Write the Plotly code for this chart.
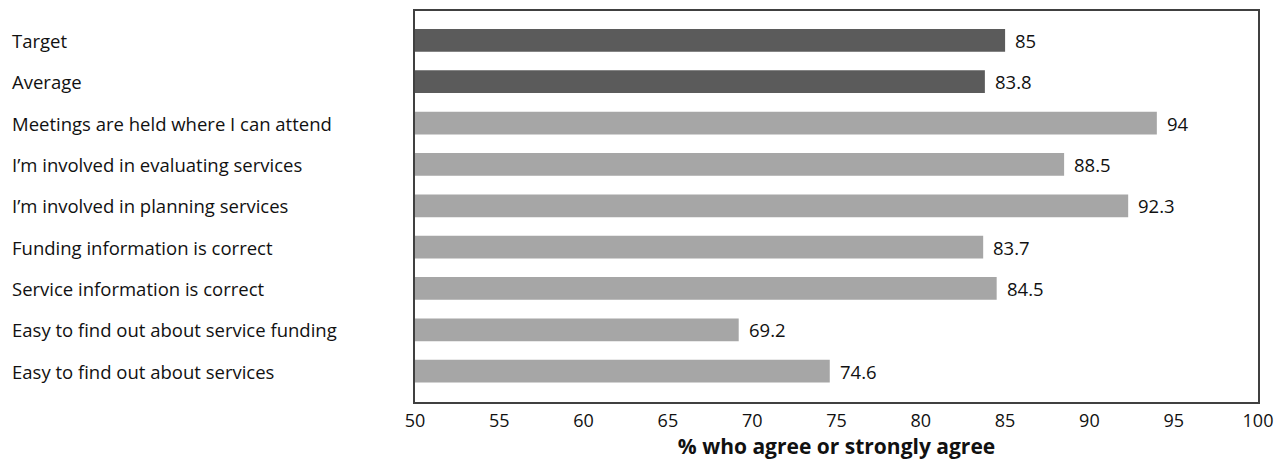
import plotly.graph_objects as go

# Survey items, listed top to bottom
categories = [
    "Target",
    "Average",
    "Meetings are held where I can attend",
    "I\u2019m involved in evaluating services",
    "I\u2019m involved in planning services",
    "Funding information is correct",
    "Service information is correct",
    "Easy to find out about service funding",
    "Easy to find out about services",
]
values = [85, 83.8, 94, 88.5, 92.3, 83.7, 84.5, 69.2, 74.6]
benchmark_rows = ["Target", "Average"]

x_title = "% who agree or strongly agree"
x_ticks = [50, 55, 60, 65, 70, 75, 80, 85, 90, 95, 100]

DARK = "#5b5b5b"
LIGHT = "#a6a6a6"
FONT = "Open Sans"
TEXT = "#111111"

PLOT_LEFT = 415
PLOT_W = 1282 - 415 - 24

colors = [DARK if c in benchmark_rows else LIGHT for c in categories]

fig = go.Figure(
    go.Bar(
        x=values,
        y=categories,
        orientation="h",
        marker=dict(color=colors, line=dict(width=0)),
        width=0.55,
        hoverinfo="x+y",
    )
)

# value labels just past the bar ends
for c, v in zip(categories, values):
    fig.add_annotation(
        x=v, y=c, xref="x", yref="y",
        text=f"{v:g}", showarrow=False,
        xanchor="left", xshift=8,
        font=dict(family=FONT, size=18.5, color=TEXT),
    )

# left-aligned category labels
for c in categories:
    fig.add_annotation(
        x=(10 - PLOT_LEFT) / PLOT_W, y=c, xref="paper", yref="y",
        text=c, showarrow=False, xanchor="left",
        font=dict(family=FONT, size=18.5, color=TEXT),
    )

fig.update_layout(
    width=1282,
    height=465,
    margin=dict(l=PLOT_LEFT, r=24, t=9, b=63),
    paper_bgcolor="white",
    plot_bgcolor="white",
    showlegend=False,
    font=dict(family=FONT, size=18, color=TEXT),
    xaxis=dict(
        range=[50, 100],
        tickvals=x_ticks,
        ticktext=[str(t) for t in x_ticks],
        showgrid=False,
        zeroline=False,
        showline=True,
        mirror=True,
        linecolor="#404040",
        linewidth=1.5,
        ticks="",
        ticklabelstandoff=2,
        tickfont=dict(family=FONT, size=18, color=TEXT),
        title=dict(
            text=f"<b>{x_title}</b>",
            font=dict(family=FONT, size=21, color=TEXT),
            standoff=6,
        ),
    ),
    yaxis=dict(
        type="category",
        categoryorder="array",
        categoryarray=categories,
        range=[8.745, -0.709],
        showticklabels=False,
        showgrid=False,
        zeroline=False,
        showline=True,
        mirror=True,
        linecolor="#404040",
        linewidth=1.5,
        ticks="",
    ),
)

fig.write_html("out.html")
